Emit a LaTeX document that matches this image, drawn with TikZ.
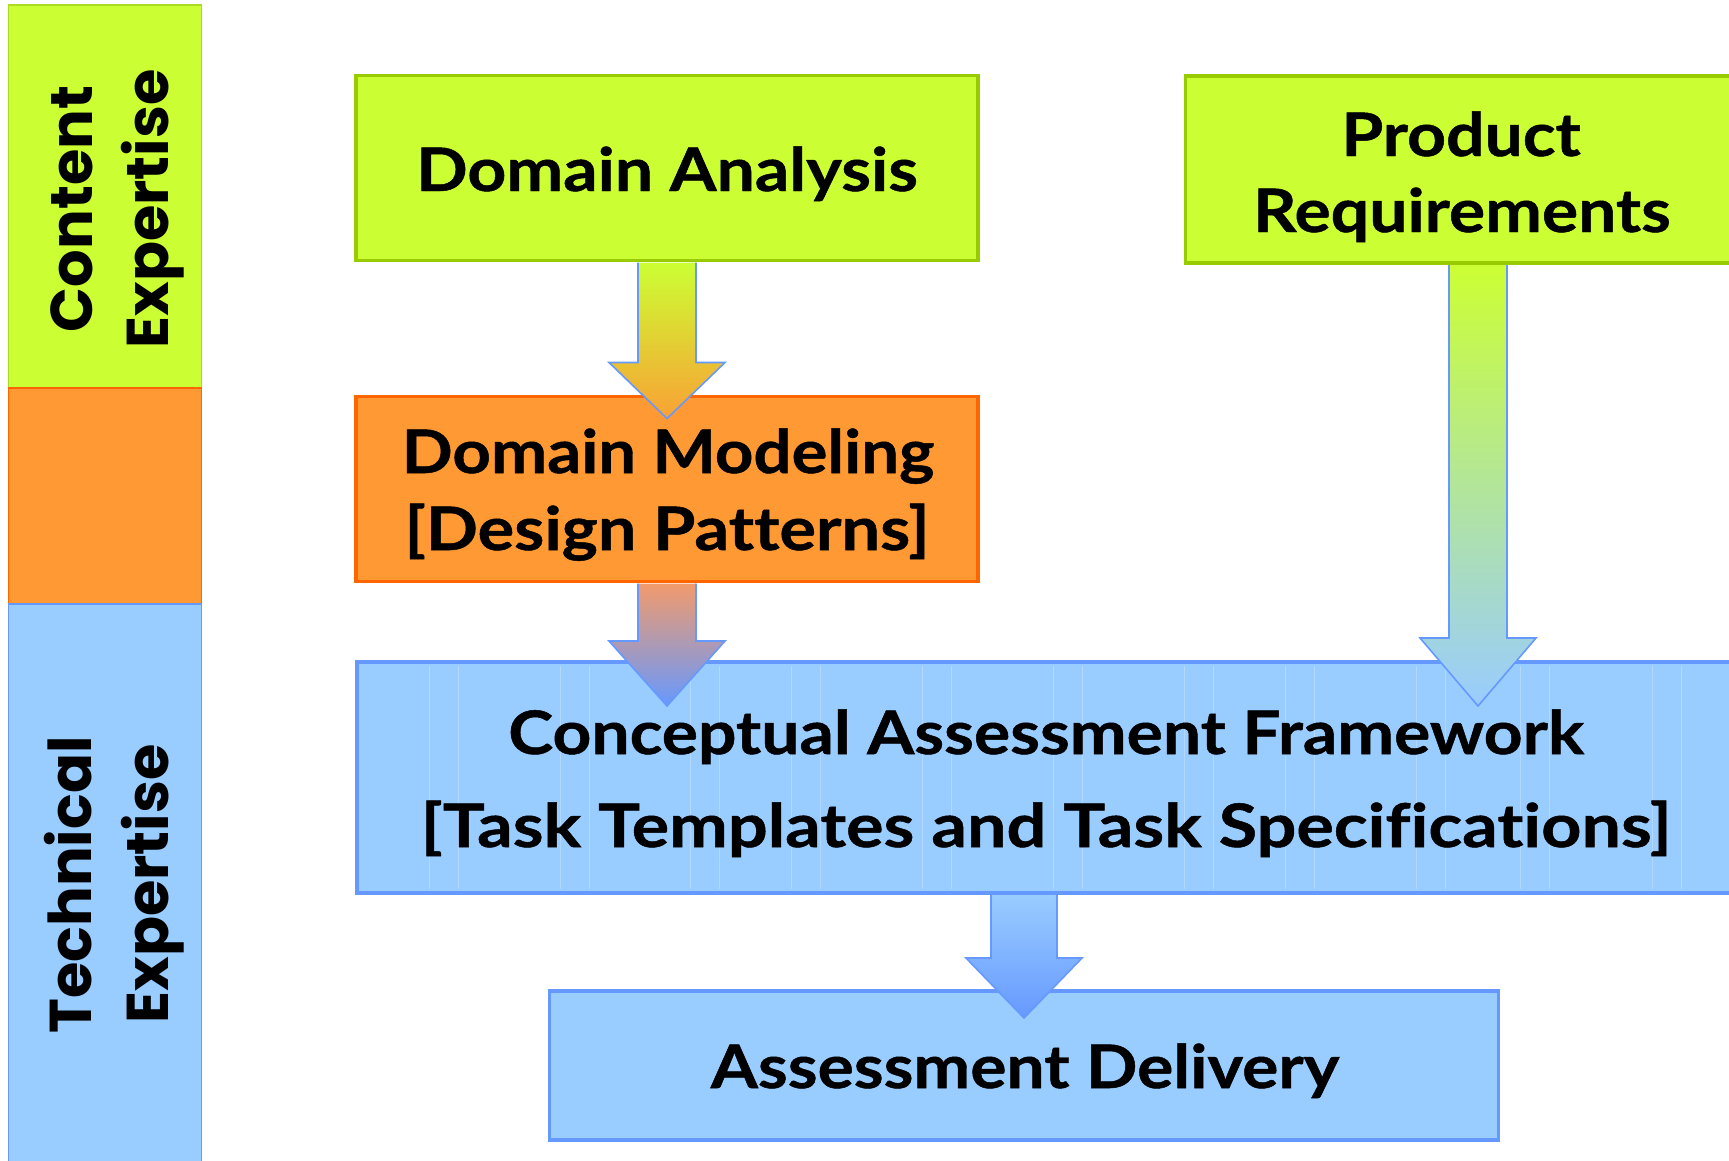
\documentclass[tikz,border=0pt]{standalone}
\usepackage{fontspec}
\usepackage{graphicx}
\newfontfamily\gillfont{Lato}[FakeStretch=1.13, Ligatures={NoCommon}, FakeBold=0.8]
\newfontfamily\gothicfont{Poppins}
\usetikzlibrary{calc}
\definecolor{cgreen}{HTML}{CCFF33}
\definecolor{cgreenB}{HTML}{99CC00}
\definecolor{cgreenL}{HTML}{AADD22}
\definecolor{corange}{HTML}{FF9933}
\definecolor{corangeB}{HTML}{FF6600}
\definecolor{cblue}{HTML}{99CCFF}
\definecolor{cblueB}{HTML}{6699FF}
\definecolor{arrOr}{HTML}{F9A134}
\definecolor{arrSal}{HTML}{F29A6C}
\tikzset{
  band/.style={rectangle, draw, line width=1.5pt, inner sep=0pt, outer sep=0pt},
  boxg/.style={rectangle, draw=cgreenB, fill=cgreen, line width=3.5pt, inner sep=0pt, outer sep=0pt},
  boxo/.style={rectangle, draw=corangeB, fill=corange, line width=3.5pt, inner sep=0pt, outer sep=0pt},
  boxb/.style={rectangle, draw=cblueB, fill=cblue, line width=3.5pt, inner sep=0pt, outer sep=0pt},
  lbl/.style={inner sep=0pt, anchor=base, font=\gillfont\bfseries\fontsize{60}{72}\selectfont},
  side/.style={inner sep=0pt, anchor=base, rotate=90, font=\gothicfont\bfseries\fontsize{59}{72}\selectfont},
  arrline/.style={draw=cblueB, line width=1.6pt, line join=miter},
  texture/.style={white, opacity=0.25, line width=1pt}
}
\begin{document}
\begin{tikzpicture}[x=1pt, y=-1pt]
\useasboundingbox (0,0) rectangle (1729,1160);
% left bands
\node[band, draw=cgreenL, fill=cgreen, minimum width=193pt, minimum height=383pt] (bandC) at (104.75,196.5) {};
\node[band, draw=corangeB, fill=corange, minimum width=193pt, minimum height=216pt] (bandM) at (104.75,496) {};
\node[band, draw=cblueB, fill=cblue, minimum width=193pt, minimum height=566pt] (bandT) at (104.75,887) {};
\node[side] (ce1) at (92,209) {Content};
\node[side] (ce2) at (168,209) {Expertise};
\node[side] (te1) at (91,885) {Technical};
\node[side] (te2) at (168,884) {Expertise};
% boxes
\node[boxg, minimum width=622pt, minimum height=185pt] (da) at (667,168) {};
\node[boxg, minimum width=551pt, minimum height=187pt] (pr) at (1461,169.5) {};
\node[boxo, minimum width=622pt, minimum height=185pt] (dm) at (667,489) {};
\node[boxb, line width=4pt, minimum width=1379pt, minimum height=231pt] (caf) at (1046,777.5) {};
\node[boxb, minimum width=949pt, minimum height=149pt] (ad) at (1024,1065.5) {};
% texture of the framework box
\foreach \xx in {428,559,689,790,921,1052,1183,1284,1415,1519,1651}{
  \draw[texture] ($(caf.south west)+(\xx-355,-4)$) -- ($(caf.north west)+(\xx-355,4)$);
  \draw[texture] ($(caf.south west)+(\xx-326,-4)$) -- ($(caf.north west)+(\xx-326,4)$);
}
% texts
\node[lbl] (daT) at (667,191) {Domain Analysis};
\node[lbl] (prT1) at (1461,156) {Product};
\node[lbl] (prT2) at (1462,232) {Requirements};
\node[lbl] (dmT1) at (668,473) {\scalebox{0.99}[1]{Domain Modeling}};
\node[lbl] (dmT2) at (667,550) {\scalebox{1.01}[1]{[Design Patterns]}};
\node[lbl] (cafT1) at (1046,754) {Conceptual Assessment Framework};
\node[lbl] (cafT2) at (1046,847) {\scalebox{1.034}[1]{[Task Templates and Task Specifications]}};
\node[lbl] (adT) at (1025,1088) {Assessment Delivery};
% arrow 1: domain analysis -> domain modeling
\coordinate (a1s) at ($(da.south)+(0,2)$);
\coordinate (a1t) at ($(dm.north)+(0,22)$);
\shade[top color=cgreen, bottom color=arrOr] ($(a1s)+(-29,0)$) -- ($(a1t)+(-29,-56)$) -- ($(a1t)+(-58,-56)$) -- (a1t) -- ($(a1t)+(58,-56)$) -- ($(a1t)+(29,-56)$) -- ($(a1s)+(29,0)$) -- cycle;
\draw[arrline] ($(a1s)+(-29,0)$) -- ($(a1t)+(-29,-56)$) -- ($(a1t)+(-58,-56)$) -- (a1t) -- ($(a1t)+(58,-56)$) -- ($(a1t)+(29,-56)$) -- ($(a1s)+(29,0)$);
% arrow 2: domain modeling -> framework
\coordinate (a2s) at ($(dm.south)+(0,2)$);
\coordinate (a2t) at ($(dm.south |- caf.north)+(0,44)$);
\shade[top color=arrSal, bottom color=cblueB] ($(a2s)+(-29,0)$) -- ($(a2t)+(-29,-65)$) -- ($(a2t)+(-58,-65)$) -- (a2t) -- ($(a2t)+(58,-65)$) -- ($(a2t)+(29,-65)$) -- ($(a2s)+(29,0)$) -- cycle;
\draw[arrline] ($(a2s)+(-29,0)$) -- ($(a2t)+(-29,-65)$) -- ($(a2t)+(-58,-65)$) -- (a2t) -- ($(a2t)+(58,-65)$) -- ($(a2t)+(29,-65)$) -- ($(a2s)+(29,0)$);
% arrow 3: product requirements -> framework
\coordinate (a3s) at ($(pr.south)+(17,2)$);
\coordinate (a3t) at ($(a3s |- caf.north)+(0,44)$);
\shade[top color=cgreen, bottom color=cblue] ($(a3s)+(-29,0)$) -- ($(a3t)+(-29,-68)$) -- ($(a3t)+(-58,-68)$) -- (a3t) -- ($(a3t)+(58,-68)$) -- ($(a3t)+(29,-68)$) -- ($(a3s)+(29,0)$) -- cycle;
\draw[arrline] ($(a3s)+(-29,0)$) -- ($(a3t)+(-29,-68)$) -- ($(a3t)+(-58,-68)$) -- (a3t) -- ($(a3t)+(58,-68)$) -- ($(a3t)+(29,-68)$) -- ($(a3s)+(29,0)$);
% arrow 4: framework -> delivery
\coordinate (a4s) at ($(ad.north |- caf.south)+(0,2)$);
\coordinate (a4t) at ($(ad.north)+(0,27)$);
\shade[top color=cblue, bottom color=cblueB] ($(a4s)+(-33,0)$) -- ($(a4t)+(-33,-60)$) -- ($(a4t)+(-58,-60)$) -- (a4t) -- ($(a4t)+(58,-60)$) -- ($(a4t)+(33,-60)$) -- ($(a4s)+(33,0)$) -- cycle;
\draw[arrline] ($(a4s)+(-33,0)$) -- ($(a4t)+(-33,-60)$) -- ($(a4t)+(-58,-60)$) -- (a4t) -- ($(a4t)+(58,-60)$) -- ($(a4t)+(33,-60)$) -- ($(a4s)+(33,0)$);
\end{tikzpicture}
\end{document}
